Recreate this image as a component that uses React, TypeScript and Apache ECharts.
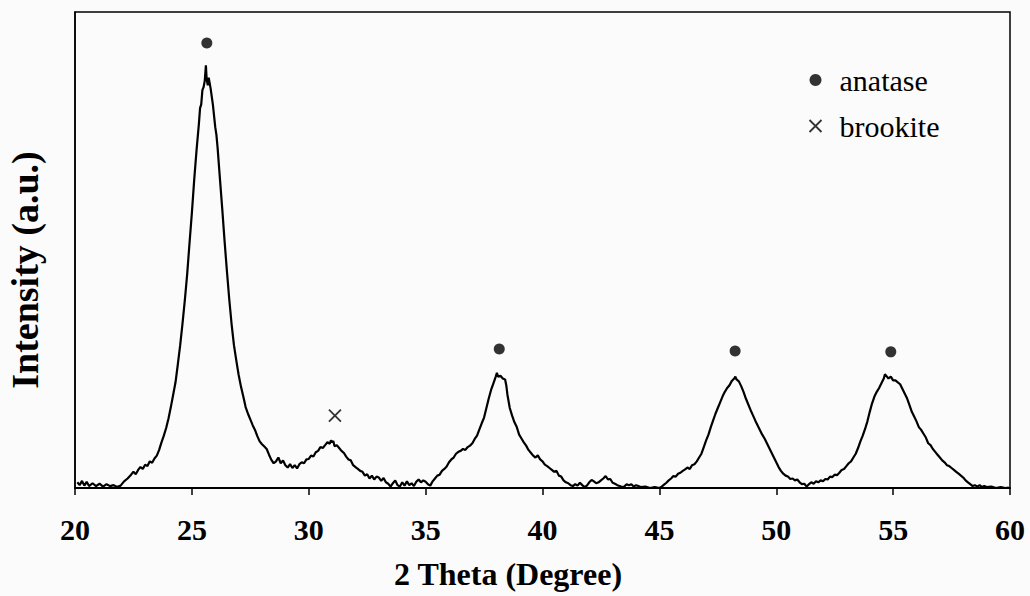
import React, { useEffect, useRef } from "react";
import * as echarts from "echarts";

// XRD pattern of TiO2, 2θ (degree) vs intensity (a.u.), split into angular ranges
const scan20to28: [number, number][] = [
  [20.1, 1.2], [20.2, 0.6], [20.3, 1.5], [20.4, 0.5], [20.5, 1.3], [20.6, 0.4], [20.75, 1.0], [20.9, 0.4],
  [21.05, 0.9], [21.2, 0.3], [21.35, 0.8], [21.5, 0.4], [21.65, 0.6], [21.8, 0.2], [21.95, 0.5],
  [22.1, 1.4], [22.25, 2.0], [22.4, 2.8], [22.5, 3.4], [22.6, 2.9], [22.7, 3.8], [22.8, 4.4], [22.9, 4.0],
  [23.0, 4.9], [23.1, 4.6], [23.2, 5.6], [23.3, 5.3], [23.4, 6.2], [23.5, 6.8], [23.6, 8.0], [23.7, 9.6],
  [23.8, 11.0], [23.9, 12.6], [24.0, 14.6], [24.1, 17.0], [24.2, 19.6], [24.3, 22.2], [24.4, 26.0],
  [24.5, 30.0], [24.6, 34.6], [24.7, 39.5], [24.8, 45.0], [24.9, 51.5], [25.0, 57.8], [25.1, 64.8],
  [25.2, 71.0], [25.3, 76.5], [25.35, 79.8], [25.4, 80.6], [25.45, 83.6], [25.5, 84.2], [25.55, 85.5],
  [25.6, 88.8], [25.63, 86.0], [25.68, 84.6], [25.72, 86.2], [25.8, 84.0], [25.9, 80.5], [26.0, 75.8],
  [26.05, 74.2], [26.1, 71.5], [26.2, 65.0], [26.3, 58.6], [26.4, 51.8], [26.5, 45.5], [26.6, 39.6],
  [26.7, 34.4], [26.8, 30.0], [26.9, 26.8], [27.0, 23.8], [27.1, 21.3], [27.2, 19.2], [27.3, 17.0],
  [27.4, 15.6], [27.5, 14.4], [27.6, 13.2], [27.7, 12.2], [27.8, 10.9], [27.9, 9.8],
];

const scan28to36: [number, number][] = [
  [28.0, 9.2], [28.1, 8.7], [28.2, 8.2], [28.3, 7.0], [28.4, 5.9], [28.5, 5.2], [28.6, 5.6], [28.7, 6.4],
  [28.8, 5.2], [28.9, 5.8], [29.0, 4.8], [29.1, 4.3], [29.2, 5.0], [29.3, 4.2], [29.4, 4.8], [29.5, 4.1],
  [29.6, 5.0], [29.7, 5.4], [29.8, 5.2], [29.9, 6.0], [30.0, 6.1], [30.1, 6.8], [30.2, 6.6], [30.3, 7.5],
  [30.4, 7.8], [30.5, 8.6], [30.6, 8.4], [30.7, 9.0], [30.8, 9.6], [30.9, 9.3], [30.95, 10.0], [31.0, 9.6],
  [31.05, 9.9], [31.1, 8.8], [31.2, 9.0], [31.3, 8.4], [31.4, 7.8], [31.5, 7.4], [31.6, 6.6], [31.7, 6.0],
  [31.8, 5.8], [31.9, 4.8], [32.0, 4.4], [32.1, 4.0], [32.2, 3.6], [32.3, 3.4], [32.4, 2.6], [32.5, 2.9],
  [32.6, 2.0], [32.7, 2.6], [32.8, 1.8], [32.9, 2.4], [33.0, 2.2], [33.1, 1.5], [33.2, 2.1], [33.3, 1.2],
  [33.4, 0.9], [33.5, 0.3], [33.6, 1.0], [33.7, 1.6], [33.8, 0.6], [33.9, 0.3], [34.0, 1.2], [34.1, 0.5],
  [34.2, 1.4], [34.3, 0.6], [34.4, 1.0], [34.5, 0.4], [34.6, 1.3], [34.7, 1.8], [34.8, 1.2], [34.9, 1.6],
  [35.0, 1.3], [35.1, 0.8], [35.2, 0.5], [35.3, 1.4], [35.4, 2.0], [35.5, 2.6], [35.6, 2.8], [35.7, 3.6],
  [35.8, 4.0], [35.9, 4.5],
];

const scan36to45: [number, number][] = [
  [36.0, 5.4], [36.1, 6.0], [36.2, 6.4], [36.3, 7.2], [36.4, 7.6], [36.5, 7.8], [36.6, 8.2], [36.7, 8.0],
  [36.8, 8.6], [36.9, 8.9], [37.0, 9.4], [37.1, 10.3], [37.2, 11.0], [37.3, 12.3], [37.4, 13.6], [37.5, 14.8],
  [37.6, 16.8], [37.7, 18.8], [37.8, 20.6], [37.9, 22.0], [38.0, 23.4], [38.05, 24.2], [38.1, 23.4],
  [38.2, 23.6], [38.3, 23.0], [38.4, 22.8], [38.45, 21.6], [38.5, 19.6], [38.6, 16.8], [38.7, 15.2],
  [38.8, 13.8], [38.9, 12.8], [39.0, 11.2], [39.1, 10.4], [39.2, 9.6], [39.3, 8.9], [39.4, 8.0], [39.5, 7.4],
  [39.6, 6.8], [39.7, 6.4], [39.8, 6.9], [39.9, 6.0], [40.0, 5.6], [40.1, 4.9], [40.2, 4.6], [40.3, 4.2],
  [40.4, 3.8], [40.5, 3.4], [40.6, 3.6], [40.7, 2.6], [40.8, 2.4], [40.9, 1.6], [41.0, 1.2], [41.1, 1.0],
  [41.2, 0.6], [41.3, 0.4], [41.4, 0.8], [41.5, 0.5], [41.6, 1.1], [41.7, 0.6], [41.8, 0.2], [41.9, 0.5],
  [42.0, 1.2], [42.1, 1.7], [42.2, 1.4], [42.3, 1.0], [42.4, 1.2], [42.5, 1.6], [42.6, 2.0], [42.7, 2.5],
  [42.8, 1.8], [42.9, 1.9], [43.0, 1.1], [43.1, 0.9], [43.2, 0.6], [43.3, 0.4], [43.4, 0.2], [43.5, 0.3],
  [43.6, 0.8], [43.7, 0.6], [43.8, 0.8], [43.9, 0.3], [44.0, 0.6], [44.1, 0.4], [44.2, 0.2], [44.4, 0.3],
  [44.6, 0.0], [44.8, 0.2],
];

const scan45to52: [number, number][] = [
  [45.0, 0.0], [45.1, 0.3], [45.2, 0.7], [45.3, 1.1], [45.4, 1.6], [45.5, 2.0], [45.6, 2.5], [45.7, 2.4],
  [45.8, 3.0], [45.9, 3.2], [46.0, 3.6], [46.1, 3.9], [46.2, 4.3], [46.3, 4.0], [46.4, 4.8], [46.5, 5.0],
  [46.6, 5.6], [46.7, 6.4], [46.8, 7.2], [46.9, 8.6], [47.0, 10.0], [47.1, 11.2], [47.2, 12.8], [47.3, 14.2],
  [47.4, 15.6], [47.5, 16.8], [47.6, 18.0], [47.7, 19.2], [47.8, 20.2], [47.9, 21.0], [48.0, 21.6],
  [48.1, 22.5], [48.2, 23.0], [48.25, 23.4], [48.3, 22.8], [48.4, 22.4], [48.5, 21.4], [48.6, 20.2],
  [48.7, 18.8], [48.8, 17.6], [48.9, 16.4], [49.0, 15.3], [49.1, 14.2], [49.2, 13.2], [49.3, 12.2],
  [49.4, 11.2], [49.5, 10.4], [49.6, 9.4], [49.7, 8.4], [49.8, 7.4], [49.9, 6.4], [50.0, 5.4], [50.1, 4.4],
  [50.2, 3.6], [50.3, 3.0], [50.4, 2.6], [50.5, 2.4], [50.6, 1.9], [50.7, 2.0], [50.8, 1.6], [50.9, 1.8],
  [51.0, 1.2], [51.1, 0.8], [51.2, 0.9], [51.3, 0.3], [51.4, 0.8], [51.5, 1.2], [51.6, 0.9], [51.7, 1.4],
  [51.8, 1.2], [51.9, 1.6],
];

const scan52to60: [number, number][] = [
  [52.0, 1.4], [52.1, 1.9], [52.2, 1.8], [52.3, 2.4], [52.4, 2.3], [52.5, 2.8], [52.6, 2.7], [52.7, 3.2],
  [52.8, 3.8], [52.9, 4.0], [53.0, 4.6], [53.1, 5.2], [53.2, 5.6], [53.3, 6.4], [53.4, 7.2], [53.5, 8.4],
  [53.6, 9.8], [53.7, 11.0], [53.8, 12.4], [53.9, 14.0], [54.0, 16.0], [54.1, 17.8], [54.2, 19.2],
  [54.3, 20.2], [54.4, 21.0], [54.5, 22.0], [54.6, 23.0], [54.65, 23.9], [54.7, 23.6], [54.8, 23.0],
  [54.9, 23.4], [55.0, 22.6], [55.1, 22.6], [55.2, 22.2], [55.3, 21.8], [55.4, 20.8], [55.5, 19.8],
  [55.6, 18.8], [55.7, 17.4], [55.8, 16.0], [55.9, 15.0], [56.0, 14.0], [56.1, 12.8], [56.2, 12.2],
  [56.3, 11.4], [56.4, 10.6], [56.5, 9.4], [56.6, 9.0], [56.7, 8.2], [56.8, 7.6], [56.9, 7.0], [57.0, 6.4],
  [57.1, 5.8], [57.2, 5.4], [57.3, 4.8], [57.4, 4.6], [57.5, 4.2], [57.6, 3.8], [57.7, 3.4], [57.8, 3.0],
  [57.9, 2.6], [58.0, 2.2], [58.1, 1.6], [58.2, 1.2], [58.3, 0.8], [58.4, 0.4], [58.5, 0.6], [58.6, 0.3],
  [58.7, 0.6], [58.8, 0.2], [58.9, 0.4], [59.0, 0.2], [59.2, 0.3], [59.4, 0.0], [59.6, 0.2], [59.8, 0.0],
  [59.95, 0.1],
];

// Phase markers placed just above the reflections
const anatasePeaks: [number, number][] = [[25.64, 93.5], [38.15, 29.2], [48.24, 28.8], [54.9, 28.6]];
const brookitePeaks: [number, number][] = [[31.12, 15.2]];

const xTicks = { min: 20, max: 60, interval: 5 };
const yRange = { min: 0, max: 100 };
const xTitle = "2 Theta (Degree)";
const yTitle = "Intensity (a.u.)";

const serif = "'Liberation Serif', 'Times New Roman', serif";
const ink = "#000";
const crossPath = "path://M0,0L10,10M0,10L10,0";

export default function App() {
  const ref = useRef<HTMLDivElement>(null);

  useEffect(() => {
    if (!ref.current) return;
    const chart = echarts.init(ref.current, undefined, { renderer: "svg" });
    const pattern = [...scan20to28, ...scan28to36, ...scan36to45, ...scan45to52, ...scan52to60];

    chart.setOption({
      animation: false,
      backgroundColor: "#fbfbfb",
      grid: {
        left: 75,
        right: 20,
        top: 12,
        bottom: 108,
        show: true,
        borderColor: ink,
        borderWidth: 1.5,
        backgroundColor: "transparent",
      },
      legend: {
        orient: "vertical",
        left: 807,
        top: 65,
        itemWidth: 30,
        itemHeight: 12,
        itemGap: 16,
        padding: 0,
        selectedMode: false,
        textStyle: { fontFamily: serif, fontSize: 30, color: ink, padding: [0, 0, 0, 4] },
        data: [
          { name: "anatase", icon: "circle", itemStyle: { color: ink } },
          {
            name: "brookite",
            icon: crossPath,
            itemStyle: { color: "none", borderColor: ink, borderWidth: 1.8 },
          },
        ],
      },
      // Axis titles, placed as free text
      graphic: [
        {
          type: "text",
          x: 508,
          y: 574,
          style: {
            text: xTitle,
            fontFamily: serif,
            fontSize: 32,
            fontWeight: "bold",
            fill: ink,
            align: "center",
            verticalAlign: "middle",
          },
        },
        {
          type: "text",
          x: 25,
          y: 270,
          rotation: Math.PI / 2,
          style: {
            text: yTitle,
            fontFamily: serif,
            fontSize: 38,
            fontWeight: "bold",
            fill: ink,
            align: "center",
            verticalAlign: "middle",
          },
        },
      ],
      xAxis: {
        type: "value",
        min: xTicks.min,
        max: xTicks.max,
        interval: xTicks.interval,
        axisLine: { show: true, lineStyle: { color: ink, width: 2 } },
        axisTick: { show: true, inside: false, length: 7, lineStyle: { color: ink, width: 1.5 } },
        axisLabel: { fontFamily: serif, fontSize: 30, fontWeight: "bold", color: ink, margin: 26 },
        splitLine: { show: false },
      },
      yAxis: {
        type: "value",
        min: yRange.min,
        max: yRange.max,
        axisLine: { show: true, lineStyle: { color: ink, width: 1.5 } },
        axisTick: { show: false },
        axisLabel: { show: false },
        splitLine: { show: false },
      },
      series: [
        {
          name: "pattern",
          type: "line",
          data: pattern,
          showSymbol: false,
          lineStyle: { color: ink, width: 2.2 },
          silent: true,
        },
        {
          name: "anatase",
          type: "scatter",
          data: anatasePeaks,
          symbol: "circle",
          symbolSize: 11,
          itemStyle: { color: ink },
        },
        {
          name: "brookite",
          type: "scatter",
          data: brookitePeaks,
          symbol: crossPath,
          symbolSize: 12,
          itemStyle: { color: "none", borderColor: ink, borderWidth: 1.8 },
        },
      ],
    });

    return () => chart.dispose();
  }, []);

  return (
    <div
      ref={ref}
      style={{ position: "fixed", left: 0, top: 0, width: 1030, height: 596 }}
    />
  );
}
